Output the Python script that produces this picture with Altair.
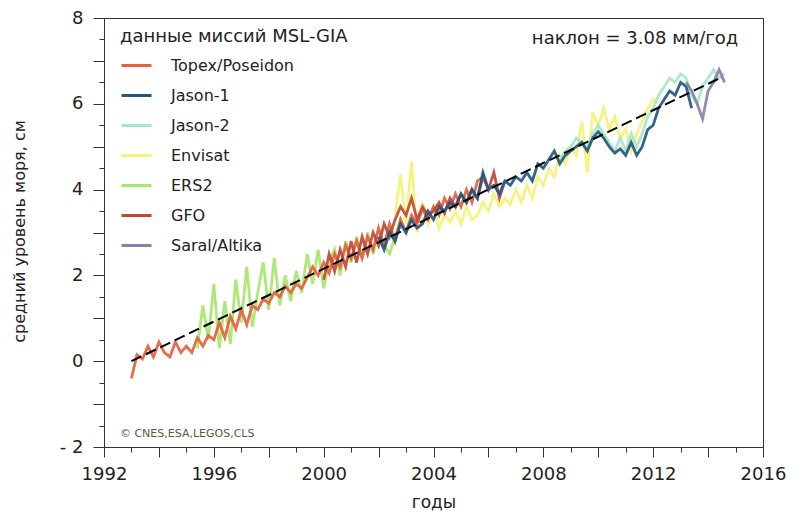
import altair as alt
import pandas as pd

# ---------------- data ----------------
missions = ["Topex/Poseidon", "Jason-1", "Jason-2", "Envisat", "ERS2", "GFO", "Saral/Altika"]
colors = ["#e5613f", "#22587f", "#a6e6cb", "#f6f17a", "#a9e66b", "#c0463a", "#8a80a8"]

topex_years = [1993.0, 1993.2, 1993.4, 1993.6, 1993.8, 1994.0, 1994.2, 1994.4, 1994.6, 1994.8,
               1995.0, 1995.2, 1995.4, 1995.6, 1995.8, 1996.0, 1996.2, 1996.4, 1996.6, 1996.8,
               1997.0, 1997.2, 1997.4, 1997.6, 1997.8, 1998.0, 1998.2, 1998.4, 1998.6, 1998.8,
               1999.0, 1999.2, 1999.4, 1999.6, 1999.8, 2000.0, 2000.2, 2000.4, 2000.6, 2000.8,
               2001.0, 2001.2, 2001.4, 2001.6, 2001.8, 2002.0, 2002.2, 2002.4, 2002.6, 2002.8,
               2003.0, 2003.2, 2003.4, 2003.6, 2003.8, 2004.0, 2004.2, 2004.4, 2004.6, 2004.8,
               2005.0, 2005.2, 2005.4, 2005.6, 2005.8]
topex_values = [-0.4, 0.15, 0.05, 0.35, 0.1, 0.45, 0.2, 0.1, 0.45, 0.2,
                0.35, 0.2, 0.55, 0.35, 0.6, 0.5, 0.9, 0.55, 1.05, 0.75,
                1.2, 0.85, 1.3, 1.2, 1.45, 1.35, 1.6, 1.5, 1.75, 1.6,
                1.8, 1.7, 1.95, 2.2, 2.0, 2.3, 2.05, 2.5, 2.2, 2.7,
                2.4, 2.8, 2.4, 2.9, 2.6, 3.1, 2.7, 3.2, 2.8, 3.3,
                3.0, 3.4, 3.2, 3.55, 3.3, 3.6, 3.4, 3.8, 3.55, 3.9,
                3.6, 4.0, 3.7, 4.2, 4.3]

ers2_years = [1995.4, 1995.6, 1995.8, 1996.0, 1996.2, 1996.4, 1996.6, 1996.8, 1997.0, 1997.2,
              1997.4, 1997.6, 1997.8, 1998.0, 1998.2, 1998.4, 1998.6, 1998.8, 1999.0, 1999.2,
              1999.4, 1999.6, 1999.8, 2000.0, 2000.2, 2000.4, 2000.6, 2000.8, 2001.0, 2001.2,
              2001.4, 2001.6, 2001.8, 2002.0, 2002.2, 2002.4, 2002.6, 2002.8, 2003.0]
ers2_values = [0.3, 1.3, 0.5, 1.8, 0.3, 1.4, 0.4, 1.9, 0.9, 2.2,
               0.8, 1.6, 2.3, 1.2, 2.4, 1.3, 2.0, 1.4, 2.1, 1.6,
               2.5, 1.8, 2.6, 1.7, 2.3, 2.6, 2.0, 2.8, 2.3, 2.9,
               2.4, 3.0, 2.5, 3.1, 2.7, 2.5, 2.9, 3.3, 3.0]

gfo_years = [2000.0, 2000.2, 2000.4, 2000.6, 2000.8, 2001.0, 2001.2, 2001.4, 2001.6, 2001.8,
             2002.0, 2002.2, 2002.4, 2002.6, 2002.8, 2003.0, 2003.2, 2003.4, 2003.6, 2003.8,
             2004.0, 2004.2, 2004.4, 2004.6, 2004.8, 2005.0, 2005.2, 2005.4, 2005.6, 2005.8,
             2006.0, 2006.2, 2006.4, 2006.6]
gfo_values = [1.9, 2.5, 2.1, 2.6, 2.2, 2.8, 2.3, 2.9, 2.5, 3.0,
              2.7, 3.2, 2.9, 3.3, 3.6, 3.4, 3.8, 3.3, 3.6, 3.4,
              3.5, 3.7, 3.45, 3.8, 3.6, 3.9, 3.7, 4.0, 3.8, 4.3,
              4.0, 4.4, 3.8, 4.2]

envisat_years = [2002.6, 2002.8, 2003.0, 2003.2, 2003.4, 2003.6, 2003.8, 2004.0, 2004.2, 2004.4,
                 2004.6, 2004.8, 2005.0, 2005.2, 2005.4, 2005.6, 2005.8, 2006.0, 2006.2, 2006.4,
                 2006.6, 2006.8, 2007.0, 2007.2, 2007.4, 2007.6, 2007.8, 2008.0, 2008.2, 2008.4,
                 2008.6, 2008.8, 2009.0, 2009.2, 2009.4, 2009.6, 2009.8, 2010.0, 2010.2, 2010.4,
                 2010.6, 2010.8, 2011.0, 2011.2, 2011.4, 2011.6, 2011.8, 2012.0, 2012.2]
envisat_values = [3.4, 4.35, 3.2, 4.65, 3.0, 3.7, 3.2, 3.6, 3.1, 3.4,
                  3.25, 3.5, 3.2, 3.6, 3.3, 3.4, 3.7, 3.5, 3.9, 3.6,
                  3.8, 3.65, 4.0, 3.7, 4.1, 3.8, 4.3, 4.1, 4.5, 4.3,
                  4.8, 4.6, 5.0, 4.8, 5.6, 4.4, 5.8, 5.5, 5.9, 5.4,
                  5.7, 5.2, 5.4, 4.9, 5.3, 5.6, 5.9, 6.1, 6.0]

jason1_years = [2002.0, 2002.2, 2002.4, 2002.6, 2002.8, 2003.0, 2003.2, 2003.4, 2003.6, 2003.8,
                2004.0, 2004.2, 2004.4, 2004.6, 2004.8, 2005.0, 2005.2, 2005.4, 2005.6, 2005.8,
                2006.0, 2006.2, 2006.4, 2006.6, 2006.8, 2007.0, 2007.2, 2007.4, 2007.6, 2007.8,
                2008.0, 2008.2, 2008.4, 2008.6, 2008.8, 2009.0, 2009.2, 2009.4, 2009.6, 2009.8,
                2010.0, 2010.2, 2010.4, 2010.6, 2010.8, 2011.0, 2011.2, 2011.4, 2011.6, 2011.8,
                2012.0, 2012.2, 2012.4, 2012.6, 2012.8, 2013.0, 2013.2, 2013.4]
jason1_values = [2.9, 2.6, 3.0, 2.8, 3.2, 3.0, 3.3, 3.1, 3.2, 3.5,
                 3.3, 3.6, 3.5, 3.7, 3.6, 3.9, 3.7, 4.0, 3.8, 4.4,
                 4.0, 4.1, 3.9, 4.2, 4.1, 4.3, 4.2, 4.4, 4.2, 4.6,
                 4.5, 4.7, 4.9, 4.6, 4.8, 4.9, 5.0, 5.1, 4.9, 5.2,
                 5.35, 5.2, 5.0, 4.85, 4.95, 4.8, 5.1, 4.8, 5.0, 5.4,
                 5.5, 5.9, 6.1, 6.3, 6.2, 6.5, 6.4, 5.9]

jason2_years = [2008.6, 2008.8, 2009.0, 2009.2, 2009.4, 2009.6, 2009.8, 2010.0, 2010.2, 2010.4,
                2010.6, 2010.8, 2011.0, 2011.2, 2011.4, 2011.6, 2011.8, 2012.0, 2012.2, 2012.4,
                2012.6, 2012.8, 2013.0, 2013.2, 2013.4, 2013.6, 2013.8, 2014.0, 2014.2, 2014.4,
                2014.6]
jason2_values = [4.7, 4.9, 5.0, 5.2, 5.1, 5.0, 5.3, 5.5, 5.3, 5.1,
                 4.9, 5.2, 4.9, 5.3, 5.0, 5.3, 5.7, 5.9, 6.2, 6.4,
                 6.6, 6.5, 6.7, 6.6, 6.2, 6.0, 6.4, 6.6, 6.8, 6.6,
                 6.7]

saral_years = [2013.2, 2013.4, 2013.6, 2013.8, 2014.0, 2014.2, 2014.4, 2014.6]
saral_values = [6.5, 6.3, 6.0, 5.65, 6.3, 6.5, 6.8, 6.5]

trend_years = [1993.0, 2014.5]
trend_values = [0.0, 6.62]

slope_label = "наклон = 3.08 мм/год"
copyright_label = "© CNES,ESA,LEGOS,CLS"

series = {
    "Topex/Poseidon": (topex_years, topex_values),
    "Jason-1": (jason1_years, jason1_values),
    "Jason-2": (jason2_years, jason2_values),
    "Envisat": (envisat_years, envisat_values),
    "ERS2": (ers2_years, ers2_values),
    "GFO": (gfo_years, gfo_values),
    "Saral/Altika": (saral_years, saral_values),
}
draw_order = ["ERS2", "Envisat", "Topex/Poseidon", "GFO", "Jason-2", "Jason-1", "Saral/Altika"]

FONT = "DejaVu Sans"
TXT = "#222222"

xscale = alt.Scale(domain=[1992, 2016], nice=False, zero=False)
yscale = alt.Scale(domain=[-2, 8], nice=False, zero=False)

xaxis = alt.Axis(
    values=list(range(1992, 2017)),
    format="d",
    labelExpr="datum.value % 4 === 0 ? '' + datum.value : ''",
    tickSize={"condition": {"test": "datum.value % 2 === 0", "value": 10}, "value": 5},
    labelPadding=8, labelFontSize=18, labelFont=FONT, labelColor=TXT,
    title="годы", titleFontSize=17, titleFont=FONT, titleFontWeight="normal", titleColor=TXT,
    titleY=55, titleBaseline="middle",
    grid=False, domainColor="#333333", tickColor="#333333", labelFlush=False, labelOverlap=False,
)
yaxis = alt.Axis(
    values=[-2 + 0.5 * i for i in range(21)],
    labelExpr="datum.value % 2 === 0 ? (datum.value < 0 ? '- ' + abs(datum.value) : '' + datum.value) : ''",
    tickSize={"condition": {"test": "datum.value % 1 === 0", "value": 11}, "value": 5},
    labelPadding=10, labelFontSize=18, labelFont=FONT, labelColor=TXT,
    title="средний уровень моря, см", titleFontSize=16, titleFont=FONT, titleFontWeight="normal",
    titleColor=TXT, titleX=-85, titleY=213, titleAngle=270, titleAlign="center", titleBaseline="middle",
    grid=False, domainColor="#333333", tickColor="#333333", labelOverlap=False, labelFlush=False,
)


def xy():
    return dict(
        x=alt.X("year:Q", scale=xscale, axis=xaxis),
        y=alt.Y("value:Q", scale=yscale, axis=yaxis),
    )


color_scale = alt.Scale(domain=missions, range=colors)
legend = alt.Legend(
    title="данные миссий MSL-GIA", orient="none", legendX=16, legendY=10,
    symbolType="stroke", symbolSize=900, symbolStrokeWidth=3, symbolOpacity=1,
    labelFontSize=16, labelFont=FONT, labelColor=TXT, labelOffset=18, labelLimit=300,
    titleFontSize=18, titleFont=FONT, titleFontWeight="normal", titleColor=TXT, titleLimit=400,
    titlePadding=3, rowPadding=5,
)

layers = []
for m in draw_order:
    yrs, vals = series[m]
    df = pd.DataFrame({"year": yrs, "value": vals, "mission": [m] * len(yrs)})
    layers.append(
        alt.Chart(df).mark_line(strokeWidth=2.8, opacity=0.92).encode(
            color=alt.Color("mission:N", scale=color_scale, legend=legend),
            **xy(),
        )
    )

trend_df = pd.DataFrame({"year": trend_years, "value": trend_values})
layers.append(
    alt.Chart(trend_df).mark_line(color="black", strokeWidth=2, strokeDash=[11, 5]).encode(**xy())
)

slope_df = pd.DataFrame({"year": [2015.1], "value": [7.52], "label": [slope_label]})
layers.append(
    alt.Chart(slope_df).mark_text(align="right", baseline="middle", fontSize=18, font=FONT, color=TXT)
    .encode(text="label:N", **xy())
)
copy_df = pd.DataFrame({"year": [1992.58], "value": [-1.69], "label": [copyright_label]})
layers.append(
    alt.Chart(copy_df).mark_text(align="left", baseline="middle", fontSize=11, font=FONT, color="#5a5a40")
    .encode(text="label:N", **xy())
)

chart = alt.layer(*layers).properties(
    width=659, height=429,
    autosize=alt.AutoSizeParams(type="none"),
    padding={"left": 96, "top": 10, "right": 30, "bottom": 65},
).configure_view(stroke="#333333", strokeWidth=1)

chart.save("out.html", embed_options={"renderer": "svg", "actions": False})
